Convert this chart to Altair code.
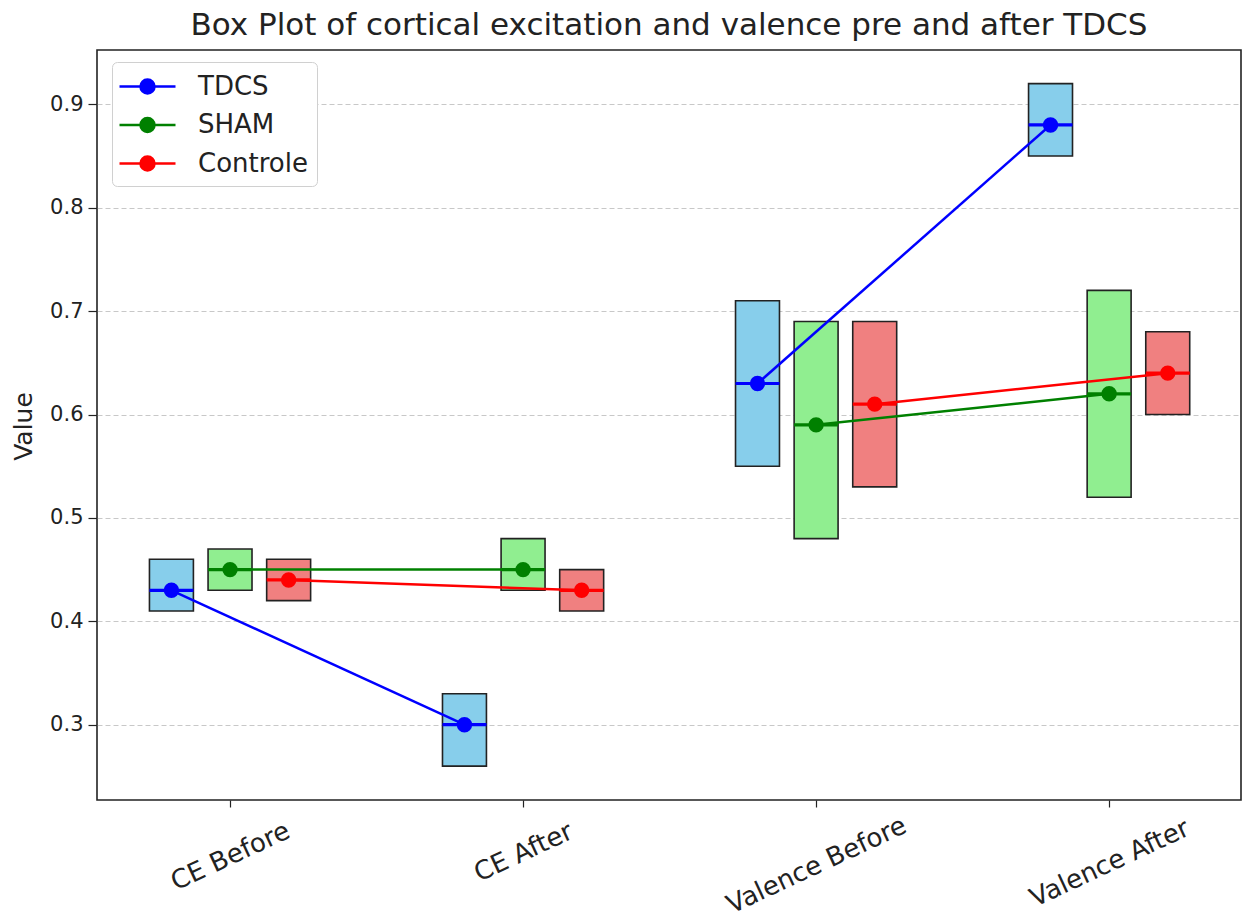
import altair as alt
import pandas as pd

# Categories on the x axis and the three study groups
categories = ["CE Before", "CE After", "Valence Before", "Valence After"]
groups = ["TDCS", "SHAM", "Controle"]

# Box summaries per group, one value per category
q1_values = {
    "TDCS": [0.41, 0.26, 0.55, 0.85],
    "SHAM": [0.43, 0.43, 0.48, 0.52],
    "Controle": [0.42, 0.41, 0.53, 0.60],
}
median_values = {
    "TDCS": [0.43, 0.30, 0.63, 0.88],
    "SHAM": [0.45, 0.45, 0.59, 0.62],
    "Controle": [0.44, 0.43, 0.61, 0.64],
}
q3_values = {
    "TDCS": [0.46, 0.33, 0.71, 0.92],
    "SHAM": [0.47, 0.48, 0.69, 0.72],
    "Controle": [0.46, 0.45, 0.69, 0.68],
}

# Styling
group_offsets = {"TDCS": -0.2, "SHAM": 0.0, "Controle": 0.2}
box_half_width = 0.075
line_colors = ["#0000ff", "#008000", "#ff0000"]
box_colors = {"TDCS": "#87ceeb", "SHAM": "#90ee90", "Controle": "#f08080"}
FONT = "DejaVu Sans"
TEXT = "#222222"

rows = []
for g in groups:
    for i, cat in enumerate(categories):
        pos = i + group_offsets[g]
        rows.append({
            "group": g,
            "category": cat,
            "pos": pos,
            "left": pos - box_half_width,
            "right": pos + box_half_width,
            "q1": q1_values[g][i],
            "median": median_values[g][i],
            "q3": q3_values[g][i],
            "pair": "CE" if i < 2 else "Valence",
            "shade": box_colors[g],
        })
df = pd.DataFrame(rows)

x_scale = alt.Scale(domain=[-0.454, 3.45], nice=False, zero=False)
y_scale = alt.Scale(domain=[0.2272, 0.9525], nice=False, zero=False)
group_scale = alt.Scale(domain=groups, range=line_colors)

# rotated labels: longer names sit a little lower under their tick
label_list = "[" + ",".join("'" + c + "'" for c in categories) + "]"
label_padding = {
    "condition": [
        {"test": "datum.value == 1", "value": 45},
        {"test": "datum.value == 2", "value": 58},
        {"test": "datum.value == 3", "value": 56},
    ],
    "value": 49,
}
x_axis = alt.Axis(
    values=[0, 1, 2, 3], labelExpr=label_list + "[datum.value]",
    grid=False, domain=False, tickColor="#222222", tickSize=7, tickWidth=1.2,
    labelAngle=-25, labelAlign="center", labelBaseline="middle",
    labelPadding=label_padding, labelFontSize=26, labelFont=FONT,
    labelColor=TEXT, labelLimit=500, title=None,
)
y_axis = alt.Axis(
    values=[0.3, 0.4, 0.5, 0.6, 0.7, 0.8, 0.9], format=".1f",
    grid=True, gridDash=[5, 3], gridColor="#c8c8c8", gridWidth=1,
    domain=False, tickColor="#222222", tickSize=9, tickWidth=1.2,
    labelPadding=5, labelFontSize=21, labelFont=FONT, labelColor=TEXT,
    title="Value", titleFontSize=25, titleFont=FONT, titleColor=TEXT,
    titleFontWeight="normal", titleAngle=-90, titleX=-74, titleY=376,
    titleAlign="center", titleBaseline="middle",
)

# legend glyph: a short line with a dot in the middle
legend_symbol = "M-2,0L2,0M0.5,0A0.5,0.5,0,1,1,-0.5,0A0.5,0.5,0,1,1,0.5,0Z"
legend = alt.Legend(
    title=None, orient="none", legendX=15, legendY=12,
    symbolType=legend_symbol, symbolSize=784, symbolStrokeWidth=2.5,
    symbolOffset=11, rowPadding=9.5,
    labelFontSize=26, labelFont=FONT, labelColor=TEXT, labelOffset=35,
    padding=9, fillColor="white", strokeColor="#d0d0d0", cornerRadius=5,
)

base = alt.Chart(df)

boxes = base.mark_rect(stroke="#222222", strokeWidth=1.6).encode(
    x=alt.X("left:Q", scale=x_scale, axis=x_axis),
    x2="right:Q",
    y=alt.Y("q1:Q", scale=y_scale, axis=y_axis),
    y2="q3:Q",
    color=alt.Color("shade:N", scale=None),
)

medians = base.mark_rule(strokeWidth=3.2).encode(
    x="left:Q", x2="right:Q", y="median:Q",
    stroke=alt.Stroke("group:N", scale=group_scale, legend=legend),
)

lines = base.mark_line(strokeWidth=2.5).encode(
    x="pos:Q", y="median:Q",
    stroke=alt.Stroke("group:N", scale=group_scale, legend=legend),
    detail="pair:N", order="pos:Q",
)

points = base.mark_point(filled=True, size=180, opacity=1).encode(
    x="pos:Q", y="median:Q",
    fill=alt.Fill("group:N", scale=group_scale, legend=legend),
    stroke=alt.Stroke("group:N", scale=group_scale, legend=legend),
)

chart = alt.layer(boxes, medians, lines, points).properties(
    width=1144, height=750,
    padding={"left": 97, "top": 50, "right": 1, "bottom": 120},
    autosize=alt.AutoSizeParams(type="none"),
    title=alt.TitleParams(
        "Box Plot of cortical excitation and valence pre and after TDCS",
        fontSize=31, font=FONT, color=TEXT, fontWeight="normal",
        anchor="middle", frame="group", baseline="alphabetic",
        offset=14, dy=30,
    ),
).configure_view(stroke="#222222", strokeWidth=1.6)

chart.save("out.html", embed_options={"renderer": "svg", "actions": False})
